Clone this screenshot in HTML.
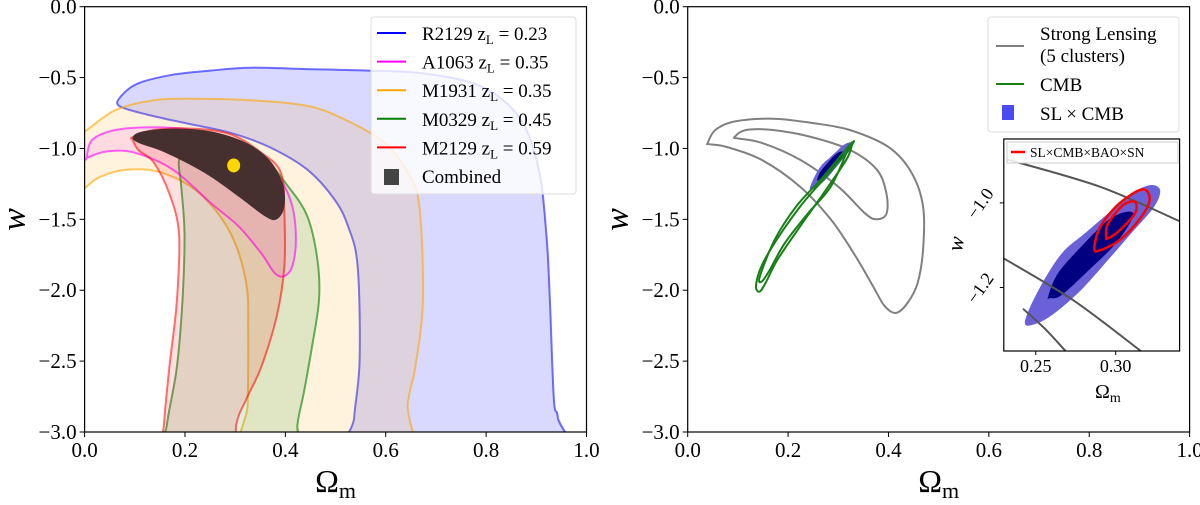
<!DOCTYPE html>
<html><head><meta charset="utf-8"><style>
body{margin:0;background:#fff;width:1200px;height:500px;overflow:hidden}
svg{font-family:"Liberation Serif",serif}
</style></head><body>
<svg id="s" width="1200" height="500" xmlns="http://www.w3.org/2000/svg"></svg>
<script>
// ---- data (Omega_m, w) ----
const xTicks=[0,0.2,0.4,0.6,0.8,1.0];
const xTickLabels=["0.0","0.2","0.4","0.6","0.8","1.0"];
const yTicks=[0,-0.5,-1,-1.5,-2,-2.5,-3];
const yTickLabels=["0.0","\u22120.5","\u22121.0","\u22121.5","\u22122.0","\u22122.5","\u22123.0"];
const blueR2129=[[.532,-3.3],[.537,-2.9],[.548,-2.49],[.544,-1.83],[.525,-1.55],[.498,-1.36],[.444,-1.15],[.368,-.99],[.291,-.89],[.199,-.82],[.123,-.76],[.069,-.70],[.073,-.63],[.107,-.54],[.176,-.48],[.253,-.45],[.330,-.43],[.444,-.44],[.559,-.45],[.674,-.47],[.789,-.56],[.866,-.78],[.904,-1.13],[.920,-1.60],[.927,-2.07],[.935,-2.77],[.943,-2.9],[.953,-3.3]];
const orangeM1931=[[-.03,-.92],[0,-.88],[.061,-.73],[.138,-.66],[.215,-.65],[.330,-.66],[.444,-.70],[.521,-.80],[.598,-.96],[.644,-1.17],[.667,-1.41],[.674,-2.07],[.659,-2.54],[.644,-2.8],[.634,-3.3],[.321,-3.3],[.325,-2.8],[.326,-2.30],[.322,-1.95],[.291,-1.60],[.230,-1.32],[.153,-1.17],[.084,-1.15],[.031,-1.20],[0,-1.28],[-.03,-1.35]];
const magentaA1063=[[.004,-1.07],[.015,-.94],[.061,-.87],[.138,-.85],[.215,-.87],[.291,-.94],[.352,-1.06],[.391,-1.22],[.414,-1.41],[.421,-1.64],[.414,-1.83],[.398,-1.90],[.379,-1.88],[.352,-1.74],[.307,-1.55],[.253,-1.39],[.176,-1.15],[.100,-1.03],[.046,-1.02],[.008,-1.06]];
const greenM0329=[[.188,-1.08],[.207,-1.01],[.253,-.99],[.307,-1.00],[.360,-1.08],[.406,-1.27],[.444,-1.48],[.464,-1.79],[.467,-2.07],[.452,-2.42],[.437,-2.72],[.424,-2.95],[.417,-3.3],[.158,-3.3],[.164,-2.95],[.184,-2.54],[.195,-2.07],[.199,-1.60],[.192,-1.25]];
const redM2129=[[.096,-.92],[.138,-.87],[.215,-.86],[.291,-.90],[.352,-1.03],[.391,-1.17],[.398,-1.46],[.398,-1.83],[.383,-2.18],[.352,-2.54],[.322,-2.77],[.302,-2.95],[.292,-3.3],[.154,-3.3],[.158,-2.95],[.169,-2.54],[.184,-2.07],[.188,-1.60],[.169,-1.32],[.138,-1.10],[.107,-1.01],[.096,-.94]];
const combined=[[.096,-.92],[.115,-.88],[.176,-.86],[.253,-.88],[.322,-.96],[.368,-1.08],[.395,-1.25],[.398,-1.41],[.383,-1.50],[.360,-1.48],[.307,-1.34],[.238,-1.17],[.161,-1.03],[.107,-.96]];
const bestFit=[0.297,-1.12];
const slOuter=[[.040,-.96],[.055,-.87],[.093,-.81],[.170,-.79],[.247,-.82],[.323,-.87],[.400,-.99],[.446,-1.17],[.469,-1.41],[.469,-1.71],[.458,-1.95],[.438,-2.09],[.415,-2.16],[.392,-2.11],[.369,-1.97],[.331,-1.74],[.285,-1.50],[.224,-1.27],[.147,-1.08],[.078,-.99],[.043,-.97]];
const slInner=[[.093,-.92],[.116,-.87],[.170,-.87],[.247,-.92],[.323,-1.01],[.377,-1.15],[.396,-1.32],[.396,-1.46],[.377,-1.50],[.354,-1.46],[.300,-1.27],[.224,-1.08],[.147,-.96],[.101,-.93]];
const cmbOuter=[[.331,-.95],[.316,-1.03],[.270,-1.22],[.224,-1.41],[.178,-1.64],[.147,-1.83],[.136,-1.97],[.143,-2.01],[.155,-1.95],[.178,-1.79],[.224,-1.55],[.270,-1.32],[.316,-1.08],[.327,-.98]];
const cmbInner=[[.324,-.97],[.270,-1.20],[.216,-1.41],[.174,-1.64],[.144,-1.90],[.147,-1.94],[.163,-1.86],[.193,-1.67],[.239,-1.46],[.285,-1.27],[.319,-1.01]];
const jointOuter=[[.2432,-1.281],[.2517,-1.206],[.2661,-1.120],[.2807,-1.072],[.2952,-1.025],[.3097,-.978],[.3217,-.958],[.3278,-.970],[.3241,-1.009],[.3097,-1.072],[.2952,-1.135],[.2783,-1.206],[.2613,-1.262],[.2493,-1.287]];
const jointInner=[[.2577,-1.222],[.2638,-1.167],[.2783,-1.104],[.2952,-1.041],[.3072,-1.021],[.3109,-1.033],[.3000,-1.096],[.2831,-1.159],[.2661,-1.218],[.2590,-1.225]];
const allOuter=[[.2867,-1.108],[.2903,-1.057],[.3024,-1.001],[.3169,-.968],[.3212,-.994],[.3145,-1.041],[.3024,-1.088],[.2903,-1.112]];
const allInner=[[.2940,-1.080],[.2952,-1.049],[.3048,-1.005],[.3121,-.998],[.3121,-1.025],[.3024,-1.065],[.2952,-1.084]];
const insetSL1=[[.2318,-.897],[.2903,-.962],[.3398,-1.043]];
const insetSL2=[[.2299,-1.131],[.2734,-1.23],[.3157,-1.35]];
const insetSL3=[[.242,-1.25],[.2564,-1.30],[.2686,-1.35]];
const insetXTicks=[0.25,0.30];const insetXLabels=["0.25","0.30"];
const insetYTicks=[-1.0,-1.2];const insetYLabels=["\u22121.0","\u22121.2"];

const S=document.getElementById('s');const NS="http://www.w3.org/2000/svg";
function mk(t,a,p){const e=document.createElementNS(NS,t);for(const k in a)e.setAttribute(k,a[k]);(p||S).appendChild(e);return e;}
function axis(x0,x1,y0,y1,d0,d1,r0,r1){return {X:v=>x0+(v-d0)/(d1-d0)*(x1-x0),Y:v=>y0+(v-r1)/(r0-r1)*(y1-y0)};}
function path(pts,A,closed){const p=pts.map(q=>[A.X(q[0]),A.Y(q[1])]);const n=p.length;let d="M"+p[0][0].toFixed(1)+","+p[0][1].toFixed(1);
 const m=closed?n:n-1;for(let i=0;i<m;i++){const p0=p[(i-1+n)%n],p1=p[i],p2=p[(i+1)%n],p3=p[(i+2)%n];
 const a=(!closed&&i==0)?p1:p0,b=(!closed&&i+2>=n)?p2:p3;
 d+=" C"+(p1[0]+(p2[0]-a[0])/6).toFixed(1)+","+(p1[1]+(p2[1]-a[1])/6).toFixed(1)+" "+(p2[0]-(b[0]-p1[0])/6).toFixed(1)+","+(p2[1]-(b[1]-p1[1])/6).toFixed(1)+" "+p2[0].toFixed(1)+","+p2[1].toFixed(1);}
 return d+(closed?"Z":"");}
function frame(A,x0,x1,y0,y1,name){
 mk('rect',{x:x0,y:y0,width:x1-x0,height:y1-y0,fill:'none',stroke:'#000','stroke-width':1.2,});
 xTicks.forEach((v,i)=>{const x=A.X(v);mk('line',{x1:x,x2:x,y1:y1,y2:y1+5,stroke:'#000'});
  const t=mk('text',{x:x,y:y1+25,'text-anchor':'middle','font-size':21});t.textContent=xTickLabels[i];
  });
 yTicks.forEach((v,i)=>{const y=A.Y(v);mk('line',{x1:x0-5,x2:x0,y1:y,y2:y,stroke:'#000'});
  const t=mk('text',{x:x0-8,y:y+7,'text-anchor':'end','font-size':21});t.textContent=yTickLabels[i];
  });
 const xl=mk('text',{x:(x0+x1)/2,y:492,'text-anchor':'middle','font-size':32});xl.innerHTML='\u03A9<tspan font-size="22" dy="6">m</tspan>';
 
 const yl=mk('text',{x:0,y:0,'text-anchor':'middle','font-size':34,'font-style':'italic',transform:`translate(${x0-60},${(y0+y1)/2}) rotate(-90)`});yl.textContent='w';
 }
function shape(pts,A,fill,stroke,name,sw){const e=mk('path',{d:path(pts,A,true),fill:fill,stroke:stroke,'stroke-width':sw||2});
 return e;}

// ---- left panel ----
const L=axis(84.6,586.5,6.7,432,0,1,-3,0);
mk('clipPath',{id:'cl'});mk('rect',{x:84.6,y:6.7,width:501.9,height:425.3},S.lastChild);
const gL=mk('g',{'clip-path':'url(#cl)'});
function sL(pts,fill,stroke,name){const e=shape(pts,L,fill,stroke,name);gL.appendChild(e);}
sL(blueR2129,'rgba(0,0,255,0.15)','rgba(0,0,255,0.55)','contour-r2129');
sL(orangeM1931,'rgba(255,165,0,0.13)','rgba(255,165,0,0.6)','contour-m1931');
sL(greenM0329,'rgba(0,128,0,0.12)','rgba(0,128,0,0.6)','contour-m0329');
sL(magentaA1063,'rgba(255,0,255,0.1)','rgba(255,0,255,0.6)','contour-a1063');
sL(redM2129,'rgba(255,0,0,0.12)','rgba(255,0,0,0.55)','contour-m2129');
sL(combined,'#45302f','none','contour-combined');
const bf=mk('ellipse',{cx:L.X(bestFit[0]),cy:L.Y(bestFit[1]),rx:6.5,ry:7,fill:'#ffd700'},gL);

frame(L,84.6,586.5,6.7,432,'left-panel');
// legend left
const lg=mk('g',{});
mk('rect',{x:371,y:17,width:205,height:177,rx:3,fill:'rgba(255,255,255,0.8)',stroke:'#ddd'},lg);
const legL=[["R2129","0.23","#0000ff"],["A1063","0.35","#ff00ff"],["M1931","0.35","#ffa500"],["M0329","0.45","#008000"],["M2129","0.59","#ff0000"]];
legL.forEach((e,i)=>{const y=33+i*28.6;mk('line',{x1:377,x2:406,y1:y,y2:y,stroke:e[2],'stroke-width':2},lg);
 const t=mk('text',{x:422,y:y+7,'font-size':19},lg);t.innerHTML=e[0]+' z<tspan font-size="13" dy="4">L</tspan><tspan dy="-4"> = '+e[1]+'</tspan>';
 });
mk('rect',{x:384,y:169,width:15,height:16,fill:'#444'},lg);
const tc=mk('text',{x:422,y:183,'font-size':19},lg);tc.textContent='Combined';

// ---- right panel ----
const R=axis(687.7,1189.6,6.7,432,0,1,-3,0);
shape(slOuter,R,'none','#808080','sl-outer-contour');
shape(slInner,R,'none','#808080','sl-inner-contour');
shape(jointOuter,R,'#6a60d8','none','sl-cmb-outer');
shape(jointInner,R,'#000080','none','sl-cmb-inner');
shape(cmbOuter,R,'none','#168016','cmb-outer-contour');
shape(cmbInner,R,'none','#168016','cmb-inner-contour');
frame(R,687.7,1189.6,6.7,432,'right-panel');
const lg2=mk('g',{});
mk('rect',{x:988,y:17,width:191,height:115,rx:3,fill:'rgba(255,255,255,0.8)',stroke:'#ddd'},lg2);
mk('line',{x1:996,x2:1024,y1:46,y2:46,stroke:'#808080','stroke-width':2},lg2);
let t=mk('text',{x:1040,y:40,'font-size':19},lg2);t.textContent='Strong Lensing';
t=mk('text',{x:1040,y:62,'font-size':19},lg2);t.textContent='(5 clusters)';
mk('line',{x1:996,x2:1024,y1:84,y2:84,stroke:'#168016','stroke-width':2},lg2);
t=mk('text',{x:1040,y:91,'font-size':19},lg2);t.textContent='CMB';
mk('rect',{x:1002,y:105,width:12,height:15,fill:'#4b4bf5'},lg2);
t=mk('text',{x:1040,y:120,'font-size':19},lg2);t.textContent='SL \u00D7 CMB';

// ---- inset ----
const I=axis(1003.8,1179.6,139,351,0.23,0.34,-1.35,-0.849);
mk('rect',{x:1003.8,y:139,width:175.8,height:212,fill:'#fff'});
mk('clipPath',{id:'ci'});mk('rect',{x:1003.8,y:139,width:175.8,height:212},S.lastChild);
const gI=mk('g',{'clip-path':'url(#ci)'});
[jointOuter,jointInner].forEach((p,i)=>{const e=shape(p,I,i?'#000080':'#6a60d8','none',i?'inset-sl-cmb-inner':'inset-sl-cmb-outer');gI.appendChild(e);});
[insetSL1,insetSL2,insetSL3].forEach(p=>{const e=mk('path',{d:path(p,I,false),fill:'none',stroke:'#555','stroke-width':2},gI);
 });
[allOuter,allInner].forEach(p=>{const e=shape(p,I,'none','#ff0000','inset-all-contour',2.5);gI.appendChild(e);});
const il=mk('g',{});
mk('rect',{x:1007,y:142,width:171,height:21,fill:'rgba(255,255,255,0.85)',stroke:'#ccc'},il);
mk('line',{x1:1011,x2:1025,y1:152,y2:152,stroke:'#ff0000','stroke-width':2.5},il);
t=mk('text',{x:1030,y:157,'font-size':13.5},il);t.textContent='SL\u00D7CMB\u00D7BAO\u00D7SN';
mk('rect',{x:1003.8,y:139,width:175.8,height:212,fill:'none',stroke:'#000','stroke-width':1.2});
insetXTicks.forEach((v,i)=>{const x=I.X(v);mk('line',{x1:x,x2:x,y1:351,y2:355,stroke:'#000'});
 const tt=mk('text',{x:x,y:372,'text-anchor':'middle','font-size':18});tt.textContent=insetXLabels[i];
 });
insetYTicks.forEach((v,i)=>{const y=I.Y(v);mk('line',{x1:999.8,x2:1003.8,y1:y,y2:y,stroke:'#000'});
 const tt=mk('text',{x:0,y:0,'text-anchor':'middle','font-size':18,transform:`translate(985,${y+4}) rotate(-55)`});tt.textContent=insetYLabels[i];
 });
t=mk('text',{x:1095,y:398,'font-size':20});t.innerHTML='\u03A9<tspan font-size="14" dy="4">m</tspan>';

t=mk('text',{x:0,y:0,'font-size':22,'font-style':'italic','text-anchor':'middle',transform:'translate(963,245) rotate(-80)'});t.textContent='w';

</script>
</body></html>
